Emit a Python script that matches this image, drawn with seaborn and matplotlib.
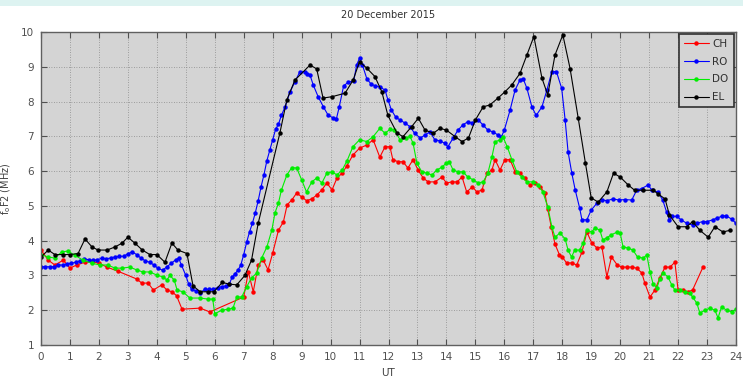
import numpy as np
import pandas as pd
import matplotlib
matplotlib.use("Agg")
import matplotlib.pyplot as plt
import seaborn as sns
from matplotlib.patches import Rectangle

# ---------------- data ----------------
stations = ["CH", "RO", "DO", "EL"]
colors = ["#ff0000", "#0000ff", "#00ee00", "#000000"]

ch_ut = [0, 0.25, 0.48, 0.77, 1.0, 1.23, 1.52, 1.76, 2.0, 2.28, 2.66, 3.3, 3.48, 3.7, 3.88, 4.17,
         4.35, 4.52, 4.68, 4.87, 5.5, 5.83, 7.0, 7.16, 7.33, 7.5, 7.67, 7.84, 8.0, 8.2, 8.37, 8.5,
         8.66, 8.83, 9.0, 9.17, 9.35, 9.52, 9.69, 9.87, 10.05, 10.22, 10.4, 10.56, 10.77, 11.0,
         11.25, 11.47, 11.7, 11.88, 12.05, 12.15, 12.33, 12.5, 12.67, 12.85, 13.02, 13.2, 13.37,
         13.6, 13.85, 14.0, 14.2, 14.37, 14.54, 14.7, 14.9, 15.05, 15.23, 15.4, 15.57, 15.68,
         15.85, 16.02, 16.2, 16.37, 16.54, 16.71, 16.88, 17.06, 17.23, 17.4, 17.5, 17.62, 17.75,
         17.9, 18.0, 18.15, 18.33, 18.5, 18.68, 18.85, 19.02, 19.2, 19.37, 19.54, 19.7, 19.9,
         20.05, 20.23, 20.4, 20.57, 20.75, 20.85, 21.03, 21.2, 21.37, 21.55, 21.72, 21.89, 22.0,
         22.17, 22.34, 22.5, 22.86]
ch_fo = [3.73, 3.44, 3.3, 3.44, 3.21, 3.3, 3.38, 3.4, 3.35, 3.24, 3.12, 2.9, 2.78, 2.78, 2.58, 2.73,
         2.58, 2.53, 2.42, 2.03, 2.06, 1.95, 2.38, 3.1, 2.53, 3.3, 3.45, 3.16, 3.64, 4.3, 4.54, 5.03,
         5.17, 5.37, 5.26, 5.15, 5.2, 5.31, 5.45, 5.66, 5.46, 5.8, 5.94, 6.15, 6.46, 6.66,
         6.75, 6.9, 6.4, 6.7, 6.7, 6.33, 6.27, 6.27, 6.09, 6.33, 6.03, 5.8, 5.69,
         5.69, 5.83, 5.66, 5.69, 5.69, 5.83, 5.4, 5.55, 5.4, 5.46, 5.94, 6.03, 6.33,
         6.03, 6.33, 6.33, 5.98, 5.94, 5.8, 5.6, 5.66, 5.55, 5.37, 4.9, 4.4, 3.9,
         3.6, 3.53, 3.36, 3.36, 3.3, 3.67, 4.25, 3.93, 3.79, 3.82, 2.96, 3.53, 3.3,
         3.24, 3.24, 3.24, 3.21, 3.07, 2.78, 2.38, 2.58, 2.93, 3.24, 3.24, 3.38, 2.58,
         2.58, 2.53, 2.58, 3.24]

ro_ut = [0, 0.15, 0.3, 0.45, 0.6, 0.75, 0.9, 1.05, 1.2, 1.35, 1.5, 1.65, 1.8, 1.95, 2.1, 2.25, 2.4,
         2.55, 2.7, 2.85, 3.0, 3.15, 3.3, 3.45, 3.6, 3.75, 3.9, 4.05, 4.2, 4.35, 4.5, 4.65, 4.75,
         4.85, 5.0, 5.1, 5.2, 5.35, 5.5, 5.65, 5.8, 5.95, 6.1, 6.25, 6.4, 6.5, 6.6, 6.7, 6.8, 6.9,
         7.0, 7.1, 7.2, 7.3, 7.4, 7.5, 7.6, 7.7, 7.8, 7.9, 8.0, 8.1, 8.2, 8.3, 8.43, 8.6, 8.77,
         8.94, 9.1, 9.2, 9.29, 9.4, 9.57, 9.75, 9.92, 10.1, 10.2, 10.3, 10.45, 10.6, 10.8, 10.9,
         11.0, 11.1, 11.25, 11.4, 11.55, 11.7, 11.88, 11.98, 12.1, 12.25, 12.4, 12.57, 12.74,
         12.9, 13.1, 13.26, 13.43, 13.6, 13.77, 13.95, 14.05, 14.23, 14.4, 14.57, 14.74, 14.9,
         15.1, 15.26, 15.43, 15.6, 15.78, 15.9, 16.0, 16.2, 16.37, 16.54, 16.65, 16.78, 16.95,
         17.1, 17.3, 17.47, 17.64, 17.8, 17.98, 18.1, 18.2, 18.33, 18.45, 18.6, 18.68, 18.85,
         19.0, 19.2, 19.37, 19.55, 19.75, 19.95, 20.15, 20.4, 20.57, 20.75, 20.96, 21.1, 21.3,
         21.47, 21.6, 21.7, 21.8, 21.96, 22.1, 22.3, 22.5, 22.65, 22.85, 23.0, 23.2, 23.35, 23.5,
         23.65, 23.85, 24.0]
ro_fo = [3.25, 3.25, 3.25, 3.25, 3.3, 3.3, 3.33, 3.35, 3.38, 3.42, 3.48, 3.45, 3.43, 3.45, 3.5, 3.48, 3.5,
         3.53, 3.55, 3.55, 3.62, 3.68, 3.6, 3.5, 3.42, 3.38, 3.3, 3.2, 3.15, 3.25, 3.35, 3.45, 3.5,
         3.3, 3.0, 2.75, 2.6, 2.55, 2.5, 2.6, 2.6, 2.6, 2.65, 2.68, 2.7, 2.75, 2.95, 3.05, 3.15, 3.3,
         3.6, 3.95, 4.25, 4.5, 4.8, 5.15, 5.55, 5.9, 6.3, 6.6, 6.9, 7.2, 7.35, 7.6, 7.85, 8.28, 8.57,
         8.86, 8.86, 8.8, 8.76, 8.48, 8.14, 7.85, 7.6, 7.53, 7.5, 7.85, 8.45, 8.55, 8.6, 9.05,
         9.25, 9.05, 8.66, 8.5, 8.45, 8.42, 8.33, 8.05, 7.76, 7.55, 7.47, 7.38, 7.28,
         7.09, 6.95, 7.04, 7.13, 6.9, 6.87, 6.8, 6.7, 6.95, 7.18, 7.33, 7.42, 7.38,
         7.47, 7.33, 7.18, 7.13, 7.04, 6.99, 7.18, 7.76, 8.33, 8.62, 8.66, 8.38, 7.85,
         7.6, 7.85, 8.33, 8.86, 8.86, 8.38, 7.47, 6.56, 5.94, 5.45, 4.94, 4.6, 4.6,
         4.88, 5.08, 5.17, 5.15, 5.2, 5.17, 5.18, 5.17, 5.45, 5.5, 5.6, 5.45, 5.4,
         5.17, 4.83, 4.6, 4.7, 4.7, 4.6, 4.5, 4.45, 4.5, 4.55, 4.55, 4.6, 4.65, 4.7,
         4.72, 4.62, 4.5]

do_ut = [0, 0.25, 0.48, 0.72, 0.93, 1.17, 1.45, 1.76, 2.04, 2.3, 2.56, 2.8, 3.07, 3.3, 3.52, 3.76,
         4.0, 4.2, 4.35, 4.45, 4.6, 4.7, 4.9, 5.14, 5.5, 5.77, 5.93, 6.0, 6.24, 6.47, 6.63, 6.76,
         6.93, 7.1, 7.27, 7.45, 7.62, 7.8, 7.97, 8.08, 8.2, 8.3, 8.49, 8.66, 8.83, 9.0, 9.17, 9.35,
         9.52, 9.7, 9.87, 10.05, 10.22, 10.4, 10.57, 10.77, 11.0, 11.25, 11.47, 11.7, 11.88,
         12.05, 12.2, 12.4, 12.6, 12.74, 12.85, 12.98, 13.15, 13.33, 13.5, 13.67, 13.85, 14.0,
         14.1, 14.23, 14.4, 14.57, 14.74, 14.92, 15.1, 15.27, 15.43, 15.57, 15.68, 15.85, 15.95,
         16.1, 16.26, 16.43, 16.6, 16.78, 17.0, 17.17, 17.33, 17.5, 17.64, 17.75, 17.92, 18.1,
         18.2, 18.32, 18.43, 18.6, 18.72, 18.85, 19.02, 19.13, 19.3, 19.4, 19.53, 19.7, 19.9,
         20.0, 20.1, 20.27, 20.44, 20.6, 20.8, 20.92, 21.03, 21.14, 21.27, 21.37, 21.48, 21.65,
         21.78, 21.89, 22.06, 22.24, 22.4, 22.5, 22.65, 22.75, 22.93, 23.1, 23.27, 23.38, 23.5,
         23.68, 23.86, 24.0]
do_fo = [3.6, 3.53, 3.5, 3.68, 3.7, 3.58, 3.44, 3.35, 3.3, 3.3, 3.21, 3.21, 3.24, 3.16, 3.1, 3.1,
         3.01, 2.96, 2.87, 3.0, 2.87, 2.58, 2.53, 2.35, 2.35, 2.32, 2.32, 1.9, 2.0, 2.03, 2.06, 2.38,
         2.38, 2.67, 2.93, 3.07, 3.5, 3.82, 4.3, 4.8, 5.08, 5.45, 5.89, 6.1, 6.09, 5.75, 5.4, 5.69,
         5.8, 5.66, 5.94, 5.98, 5.89, 6.03, 6.3, 6.7, 6.9, 6.85, 6.99, 7.23, 7.09,
         7.2, 7.18, 6.9, 6.95, 7.0, 6.8, 6.23, 5.98, 5.94, 5.89, 6.03, 6.12, 6.23,
         6.27, 6.03, 5.98, 5.98, 5.83, 5.75, 5.66, 5.69, 5.94, 6.4, 6.84, 6.9, 6.99,
         6.7, 6.33, 5.98, 5.83, 5.69, 5.69, 5.6, 5.4, 4.97, 4.4, 4.1, 4.22, 4.05,
         3.73, 3.53, 3.73, 3.73, 3.93, 4.3, 4.25, 4.37, 4.3, 4.02, 4.08, 4.17, 4.25,
         4.22, 3.82, 3.79, 3.73, 3.53, 3.5, 3.59, 3.1, 2.75, 2.65, 2.9, 3.07, 2.96,
         2.73, 2.58, 2.58, 2.53, 2.5, 2.38, 2.2, 1.92, 2.0, 2.06, 2.0, 1.78, 2.09,
         2.0, 1.95, 2.03]

el_ut = [0, 0.25, 0.48, 0.77, 1.0, 1.28, 1.52, 1.76, 1.97, 2.28, 2.56, 2.8, 3.0, 3.24, 3.5, 3.76,
         4.0, 4.28, 4.52, 4.73, 5.04, 5.25, 5.5, 5.77, 5.97, 6.26, 6.5, 6.76, 7.04, 7.27, 7.5, 8.25,
         8.49, 8.77, 9.29, 9.52, 9.74, 10.05, 10.5, 10.78, 11.0, 11.25, 11.53, 11.77, 11.98, 12.29,
         12.5, 12.8, 13.03, 13.26, 13.55, 13.78, 14.0, 14.3, 14.54, 14.76, 15.0, 15.27, 15.5,
         15.78, 16.02, 16.26, 16.54, 16.78, 17.02, 17.3, 17.5, 17.75, 18.02, 18.27, 18.55, 18.8,
         19.0, 19.24, 19.54, 19.77, 20.0, 20.28, 20.5, 20.8, 21.14, 21.3, 21.55, 21.7, 22.0, 22.3,
         22.5, 22.75, 23.04, 23.27, 23.55, 23.8]
el_fo = [3.53, 3.73, 3.6, 3.6, 3.6, 3.63, 4.05, 3.82, 3.73, 3.73, 3.82, 3.93, 4.1, 3.93, 3.73, 3.6,
         3.6, 3.38, 3.93, 3.73, 3.63, 2.7, 2.53, 2.53, 2.53, 2.8, 2.75, 2.73, 3.0, 3.44, 4.5, 7.1,
         8.05, 8.62, 9.05, 8.94, 8.1, 8.14, 8.24, 8.62, 9.15, 8.96, 8.72, 8.28, 7.6, 7.1,
         6.99, 7.28, 7.52, 7.18, 7.09, 7.23, 7.18, 6.99, 6.85, 6.95, 7.47, 7.85, 7.9,
         8.1, 8.28, 8.48, 8.81, 9.34, 9.87, 8.67, 8.19, 9.34, 9.92, 8.95, 7.53, 6.23,
         5.23, 5.11, 5.4, 5.94, 5.83, 5.6, 5.45, 5.45, 5.45, 5.35, 5.2, 4.74, 4.4, 4.4,
         4.55, 4.3, 4.1, 4.4, 4.25, 4.3]

x_ticks = list(range(0, 25))
y_ticks = list(range(1, 11))
title = "20 December 2015"

# ---------------- dataframe ----------------
df = pd.concat([
    pd.DataFrame({"UT": ch_ut, "foF2": ch_fo, "station": "CH"}),
    pd.DataFrame({"UT": ro_ut, "foF2": ro_fo, "station": "RO"}),
    pd.DataFrame({"UT": do_ut, "foF2": do_fo, "station": "DO"}),
    pd.DataFrame({"UT": el_ut, "foF2": el_fo, "station": "EL"}),
], ignore_index=True)

# ---------------- plot ----------------
sns.set_theme(style="ticks")
plt.rcParams["font.family"] = ["DejaVu Sans"]

fig = plt.figure(figsize=(7.43, 3.78), dpi=100)
fig.patch.set_facecolor("white")
fig.patches.append(Rectangle((0, 1 - 6 / 378), 1, 6 / 378, transform=fig.transFigure,
                             facecolor="#ddf3f1", edgecolor="none", zorder=0))
ax = fig.add_axes([41 / 743, 1 - 345 / 378, 695 / 743, 313 / 378])
ax.set_facecolor("#d4d4d4")

sns.lineplot(data=df, x="UT", y="foF2", hue="station", hue_order=stations,
             palette=dict(zip(stations, colors)), estimator=None, sort=False,
             marker="o", markersize=3.2, markeredgewidth=0, linewidth=0.8,
             legend=False, ax=ax)

ax.set_xlim(0, 24)
ax.set_ylim(1, 10)
ax.set_xticks(x_ticks)
ax.set_yticks(y_ticks)
ax.grid(True, linestyle=(0, (1, 2)), color="#8a8a8a", linewidth=0.6)
ax.set_axisbelow(True)
ax.tick_params(direction="in", top=True, right=True, length=4, width=0.8,
               labelsize=7.5, labelcolor="#505050", color="#505050", pad=5)
for s in ax.spines.values():
    s.set_color("#606060")
    s.set_linewidth(1.0)

ax.set_title(title, fontsize=7, color="#303030", pad=10)
ax.set_xlabel("UT", fontsize=7.5, color="#404040")
ax.xaxis.label.set_va("center")
ax.xaxis.set_label_coords(0.499, -0.088)
ax.set_ylabel("f$_\\mathregular{o}$F2 (MHz)", fontsize=7, color="#404040", labelpad=6)

leg = ax.legend(ax.lines[:4], stations, loc="upper right", bbox_to_anchor=(0.9965, 0.995),
                fontsize=7.5, frameon=True, fancybox=False, framealpha=1,
                facecolor="#d4d4d4", edgecolor="#303030", handlelength=2.4,
                borderpad=0.5, labelspacing=0.75, handletextpad=0.3, borderaxespad=0)
leg.get_frame().set_linewidth(1.2)
for t in leg.get_texts():
    t.set_color("#303030")

fig.savefig("out.png", dpi=100)
